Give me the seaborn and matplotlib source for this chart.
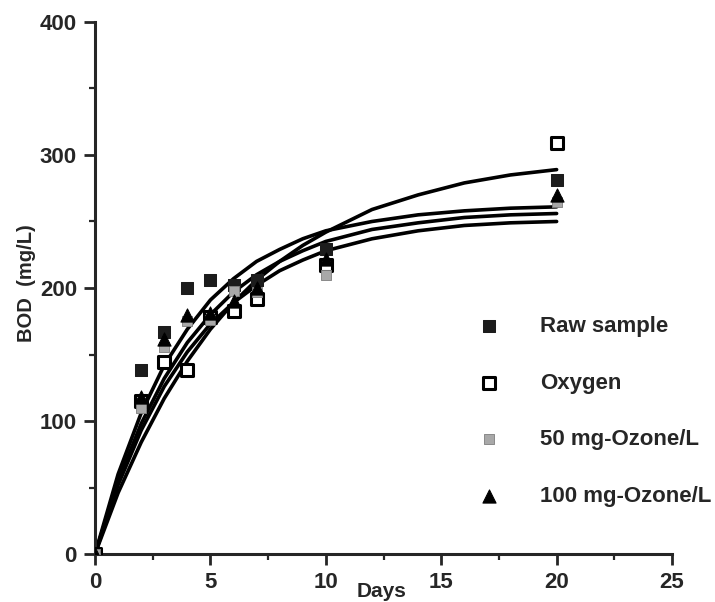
import numpy as np
import pandas as pd
import seaborn as sns
import matplotlib.pyplot as plt

days = [0, 2, 3, 4, 5, 6, 7, 10, 20]
raw_sample = [0, 138, 167, 200, 206, 202, 206, 229, 281]
oxygen = [0, 115, 144, 138, 178, 183, 192, 217, 309]
ozone_50 = [0, 110, 156, 175, 176, 198, 197, 210, 265]
ozone_100 = [0, 118, 162, 180, 181, 190, 200, 222, 270]

# fitted curves, values
curve_days = [0, 1, 2, 3, 4, 5, 6, 7, 8, 9, 10, 12, 14, 16, 18, 20]
curve_oxygen = [0, 46, 84, 117, 145, 169, 189, 206, 220, 232, 242, 259, 270, 279, 285, 289]
curve_raw = [0, 60, 106, 142, 169, 191, 207, 220, 229, 237, 243, 250, 255, 258, 260, 261]
curve_ozone_100 = [0, 55, 98, 132, 159, 180, 197, 210, 220, 228, 235, 244, 249, 253, 255, 256]
curve_ozone_50 = [0, 52, 93, 126, 152, 173, 189, 202, 213, 221, 228, 237, 243, 247, 249, 250]

labels = ["Raw sample", "Oxygen", "50 mg-Ozone/L", "100 mg-Ozone/L"]

sns.set_style("ticks")
plt.rcParams["font.family"] = ["Liberation Sans", "DejaVu Sans"]

fig = plt.figure(figsize=(7.15, 6.02), dpi=100)
ax = fig.add_axes([0.1329, 0.0797, 0.8070, 0.8838])

for vals in [curve_oxygen, curve_raw, curve_ozone_100, curve_ozone_50]:
    sns.lineplot(x=curve_days, y=vals, color="black", lw=2.6, ax=ax)

pts = pd.DataFrame({"Days": days * 4,
                    "BOD": raw_sample + oxygen + ozone_50 + ozone_100,
                    "group": np.repeat(labels, len(days))})

styles = {
    "Raw sample": dict(marker="s", color="#1c1c1c", edgecolor="#1c1c1c", s=85),
    "Oxygen": dict(marker="s", color="white", edgecolor="black", linewidth=2.2, s=80),
    "50 mg-Ozone/L": dict(marker="s", color="#a8a8a8", edgecolor="#808080", s=60),
    "100 mg-Ozone/L": dict(marker="^", color="black", edgecolor="black", s=90),
}
for lab in labels:
    d = pts[pts["group"] == lab]
    sns.scatterplot(data=d, x="Days", y="BOD", ax=ax, label=lab, zorder=5, **styles[lab])

ax.set_xlim(0, 25)
ax.set_ylim(0, 400)
ax.set_xticks([0, 5, 10, 15, 20, 25])
ax.set_xticks([2.5, 7.5, 12.5, 17.5, 22.5], minor=True)
ax.set_yticks([0, 100, 200, 300, 400])
ax.set_yticks([50, 150, 250, 350], minor=True)
ax.tick_params(which="major", length=8, width=2, labelsize=16, pad=5)
ax.tick_params(which="minor", length=4, width=1.6)
for t in ax.get_xticklabels() + ax.get_yticklabels():
    t.set_fontweight("bold")
sns.despine(ax=ax)
for sp in ["left", "bottom"]:
    ax.spines[sp].set_linewidth(2.2)

ax.set_xlabel("Days", fontsize=15, fontweight="bold")
ax.xaxis.set_label_coords(0.497, -0.052)
ax.set_ylabel("BOD  (mg/L)", fontsize=14.5, fontweight="bold")
ax.yaxis.set_label_coords(-0.103, 0.51)

ax.legend(loc="upper left", bbox_to_anchor=(458 / 715, 1 - 296 / 602),
          bbox_transform=fig.transFigure, frameon=False,
          prop={"size": 16, "weight": "bold"},
          labelspacing=1.6, handletextpad=1.8, handlelength=1.0)

fig.savefig("out.png", dpi=100)
